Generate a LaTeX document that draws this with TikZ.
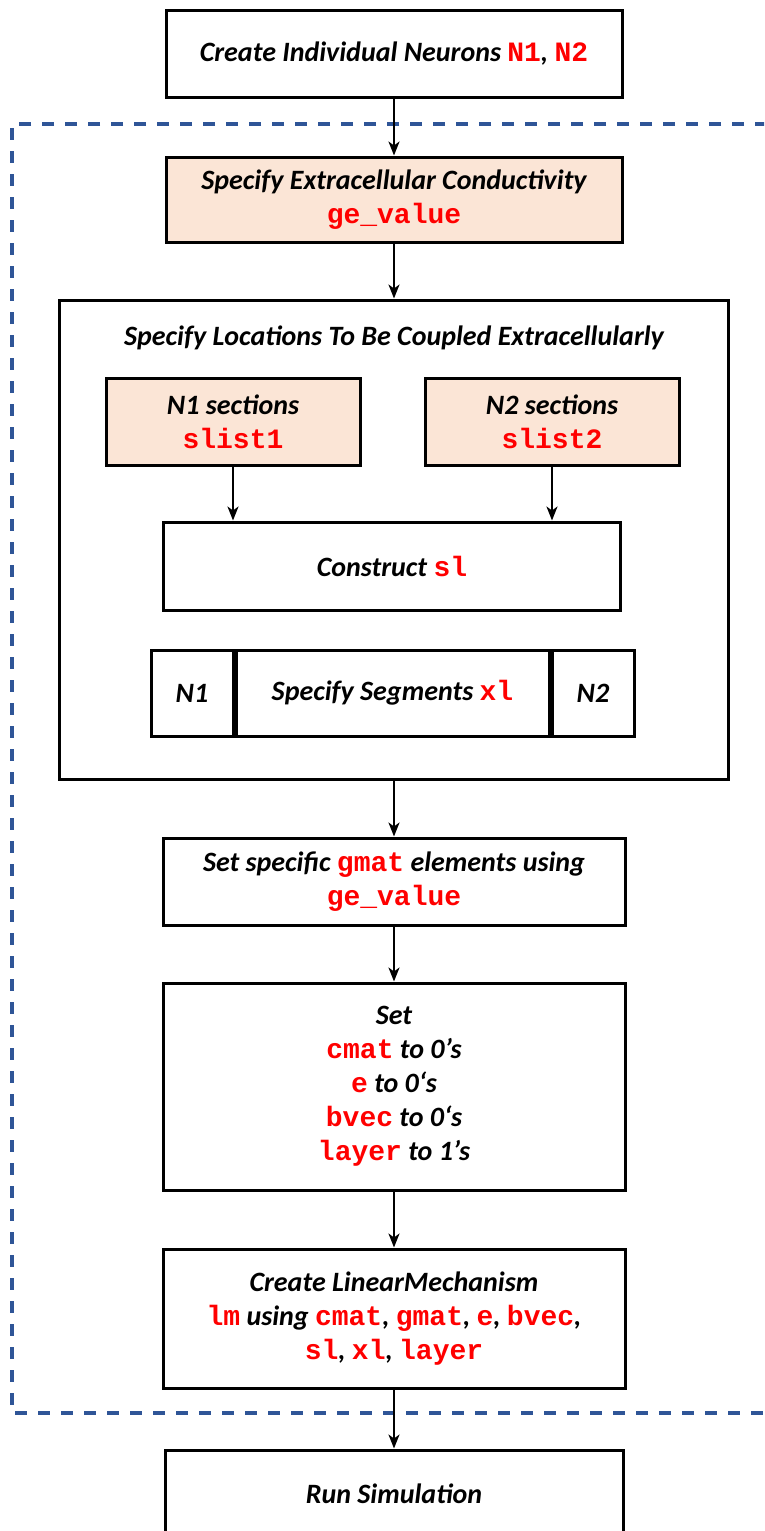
\documentclass[tikz,border=0pt]{standalone}
\usepackage{fontspec}
\setmainfont{Carlito}
\newfontfamily\codefont{Liberation Mono}
\usetikzlibrary{arrows.meta}
\definecolor{codered}{RGB}{255,0,0}
\definecolor{peach}{RGB}{251,229,214}
\definecolor{dashblue}{RGB}{47,85,151}
\newcommand{\cd}[1]{{\codefont\upshape\bfseries\color{codered}#1}}
\begin{document}
\begin{tikzpicture}[x=1pt,y=-1pt,
  every node/.style={font=\fontsize{28}{34}\selectfont\bfseries\itshape, inner sep=0pt, align=center},
  boxnode/.style={draw, line width=3pt, fill=white},
  peachbox/.style={boxnode, fill=peach},
  flow/.style={line width=2.2pt, -{Stealth[length=14pt,width=11pt,inset=4pt]}},
  dashline/.style={draw=dashblue, line width=3.2pt, dash pattern=on 12pt off 11pt}
]
\useasboundingbox (0,0) rectangle (764,1531);
\clip (0,0) rectangle (764,1531);
\fill[white] (0,0) rectangle (764,1531);
\draw[dashline] (790,124) -- (12,124) -- (12,1413) -- (790,1413);

\node[boxnode, minimum width=456pt, minimum height=87pt] (create) at (394,53.5) {Create Individual Neurons \cd{N1}, \cd{N2}};
\node[peachbox, minimum width=456pt, minimum height=85pt] (cond) at (394,199.5) {Specify Extracellular Conductivity\\\cd{ge\_value}};
\node[boxnode, minimum width=669pt, minimum height=479pt] (loc) at (394,539.5) {};
\node (loctitle) at (394,338) {Specify Locations To Be Coupled Extracellularly};
\node[peachbox, minimum width=254pt, minimum height=87pt] (n1s) at (233,421.5) {N1 sections\\\cd{slist1}};
\node[peachbox, minimum width=254pt, minimum height=87pt] (n2s) at (552,421.5) {N2 sections\\\cd{slist2}};
\node[boxnode, minimum width=457pt, minimum height=88pt] (cons) at (392,566) {Construct \cd{sl}};
\node[boxnode, minimum width=313pt, minimum height=86pt] (seg) at (392.5,693) {Specify Segments \cd{xl}};
\node[boxnode, minimum width=82pt, minimum height=86pt, anchor=east] (segn1) at (seg.west) {N1};
\node[boxnode, minimum width=82pt, minimum height=86pt, anchor=west] (segn2) at (seg.east) {N2};
\node[boxnode, minimum width=462pt, minimum height=87pt] (gmat) at (394,881.5) {Set specific \cd{gmat} elements using\\\cd{ge\_value}};
\node[boxnode, minimum width=462pt, minimum height=207pt] (set) at (394,1086.5) {Set\\\cd{cmat} to 0’s\\\cd{e} to 0‘s\\\cd{bvec} to 0‘s\\\cd{layer} to 1’s};
\node[boxnode, minimum width=462pt, minimum height=139pt] (lm) at (394,1318.5) {Create LinearMechanism\\\cd{lm} using \cd{cmat}, \cd{gmat}, \cd{e}, \cd{bvec},\\\cd{sl}, \cd{xl}, \cd{layer}};
\node[boxnode, minimum width=458pt, minimum height=88pt] (run) at (394,1494) {Run Simulation};

\draw[flow] (create.south) -- (cond.north);
\draw[flow] (cond.south) -- (loc.north);
\draw[flow] (n1s.south) -- (n1s.south |- cons.north);
\draw[flow] (n2s.south) -- (n2s.south |- cons.north);
\draw[flow] (loc.south) -- (gmat.north);
\draw[flow] (gmat.south) -- (set.north);
\draw[flow] (set.south) -- (lm.north);
\draw[flow] (lm.south) -- (run.north);
\end{tikzpicture}
\end{document}
